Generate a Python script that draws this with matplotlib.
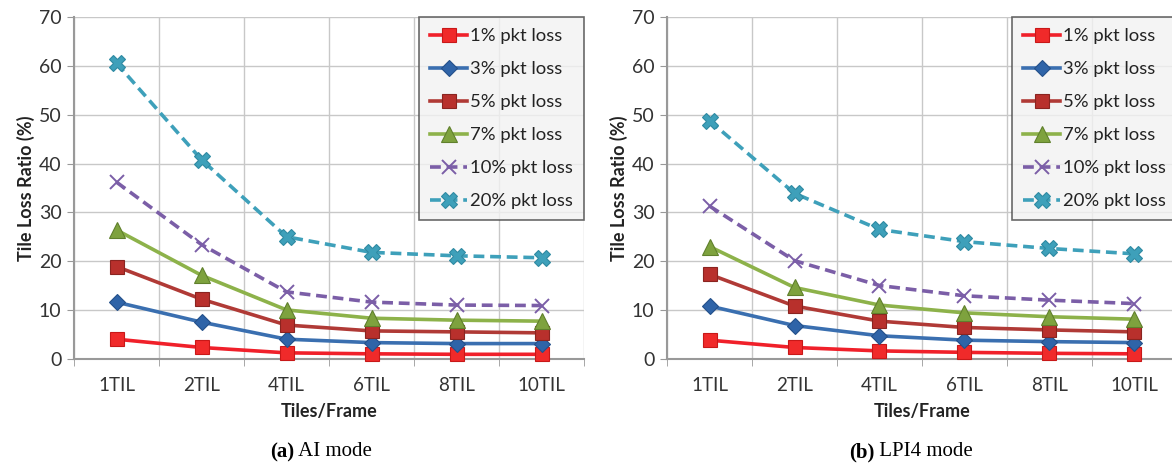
import matplotlib
matplotlib.use("Agg")
import matplotlib.pyplot as plt

categories = ["1TIL", "2TIL", "4TIL", "6TIL", "8TIL", "10TIL"]
series_labels = ["1% pkt loss", "3% pkt loss", "5% pkt loss", "7% pkt loss", "10% pkt loss", "20% pkt loss"]

ai_1 = [4.0, 2.3, 1.2, 1.0, 0.9, 0.9]
ai_3 = [11.6, 7.5, 4.0, 3.3, 3.1, 3.1]
ai_5 = [18.9, 12.2, 6.9, 5.7, 5.5, 5.3]
ai_7 = [26.4, 17.1, 10.0, 8.3, 7.9, 7.7]
ai_10 = [36.2, 23.4, 13.7, 11.6, 11.0, 10.9]
ai_20 = [60.6, 40.8, 25.0, 21.8, 21.1, 20.7]

lpi_1 = [3.8, 2.3, 1.6, 1.3, 1.1, 1.0]
lpi_3 = [10.8, 6.8, 4.7, 3.8, 3.5, 3.3]
lpi_5 = [17.3, 10.8, 7.7, 6.4, 5.9, 5.5]
lpi_7 = [23.0, 14.6, 11.0, 9.4, 8.6, 8.1]
lpi_10 = [31.3, 20.1, 15.0, 12.9, 12.0, 11.3]
lpi_20 = [48.8, 33.9, 26.5, 24.0, 22.6, 21.5]

yticks = [0, 10, 20, 30, 40, 50, 60, 70]

styles = [
    dict(color="#f0202a", marker="s", ls="-", mfc="#f02a2a", mec="#c81818", ms=10),
    dict(color="#3a6fb0", marker="D", ls="-", mfc="#2f64a8", mec="#24508a", ms=8),
    dict(color="#b03a36", marker="s", ls="-", mfc="#b8302c", mec="#8a2420", ms=10),
    dict(color="#8db24a", marker="^", ls="-", mfc="#7ea23e", mec="#60802c", ms=11),
    dict(color="#7b5ea7", marker="x", ls=(0, (3, 1.6)), mfc="#7b5ea7", mec="#7b5ea7", ms=10, mew=1.4),
    dict(color="#3ea0ba", marker="X", ls=(0, (3, 1.6)), mfc="#3ea0ba", mec="#2f8aa2", ms=12),
]

W, H = 1172, 466
fig = plt.figure(figsize=(W / 100, H / 100), dpi=100)
plt.rcParams["font.family"] = ["Lato", "DejaVu Sans"]

def px_axes(x0, y0, x1, y1):
    return fig.add_axes([x0 / W, 1 - y1 / H, (x1 - x0) / W, (y1 - y0) / H])

def draw(ax, data, caption_bold, caption_rest, cap_x):
    xs = range(len(categories))
    handles = []
    for vals, lab, st in zip(data, series_labels, styles):
        st = dict(st)
        mew = st.pop("mew", 0.8)
        h, = ax.plot(xs, vals, color=st["color"], ls=st["ls"], lw=2.6,
                     marker=st["marker"], ms=st["ms"], mfc=st["mfc"], mec=st["mec"],
                     mew=mew, label=lab, zorder=3, clip_on=False)
        handles.append(h)
    ax.set_xlim(-0.5, len(categories) - 0.5)
    ax.set_ylim(0, 70)
    ax.set_yticks(yticks)
    ax.set_yticklabels([str(v) for v in yticks], fontsize=14, color="#333333")
    ax.set_xticks(list(xs))
    ax.set_xticklabels(categories, fontsize=13.5, color="#333333")
    ax.set_xticks([i - 0.5 for i in range(len(categories) + 1)], minor=True)
    ax.tick_params(axis="x", which="major", length=0, pad=13)
    ax.tick_params(axis="x", which="minor", length=5, color="#999999")
    ax.tick_params(axis="y", length=5, color="#999999", pad=4)
    ax.grid(axis="y", color="#c8c8c8", lw=1)
    ax.grid(axis="x", which="minor", color="#c8c8c8", lw=1)
    ax.set_axisbelow(True)
    for s in ["top", "right"]:
        ax.spines[s].set_visible(False)
    for s in ["left", "bottom"]:
        ax.spines[s].set_color("#999999")
        ax.spines[s].set_linewidth(1.5)
    ax.set_ylabel("Tile Loss Ratio (%)", fontsize=13, fontweight="bold", color="#222222", labelpad=3)
    ax.set_xlabel("Tiles/Frame", fontsize=13, fontweight="bold", color="#222222", labelpad=7)
    leg = ax.legend(handles=handles, loc="upper right", bbox_to_anchor=(1.0, 1.0),
                    fontsize=13.3, frameon=True, fancybox=False, handlelength=2.0,
                    handletextpad=0.15, labelspacing=0.92, borderpad=0.6, borderaxespad=0.0)
    leg.get_frame().set_facecolor("#f2f2f2")
    leg.get_frame().set_edgecolor("#444444")
    leg.get_frame().set_linewidth(1.2)
    for t in leg.get_texts():
        t.set_color("#222222")
    fig.text(cap_x / W, 1 - 452 / H, caption_bold, fontsize=15, fontweight="bold",
             family="Liberation Serif", ha="right", va="center")
    fig.text(cap_x / W, 1 - 452 / H, caption_rest, fontsize=15,
             family="Liberation Serif", ha="left", va="center")

ax1 = px_axes(74, 17.3, 584, 358.7)
draw(ax1, [ai_1, ai_3, ai_5, ai_7, ai_10, ai_20], "(a)", " AI mode", 294)
ax2 = px_axes(667, 17.3, 1177, 358.7)
draw(ax2, [lpi_1, lpi_3, lpi_5, lpi_7, lpi_10, lpi_20], "(b)", " LPI4 mode", 874)

fig.savefig("out.png", dpi=100)
